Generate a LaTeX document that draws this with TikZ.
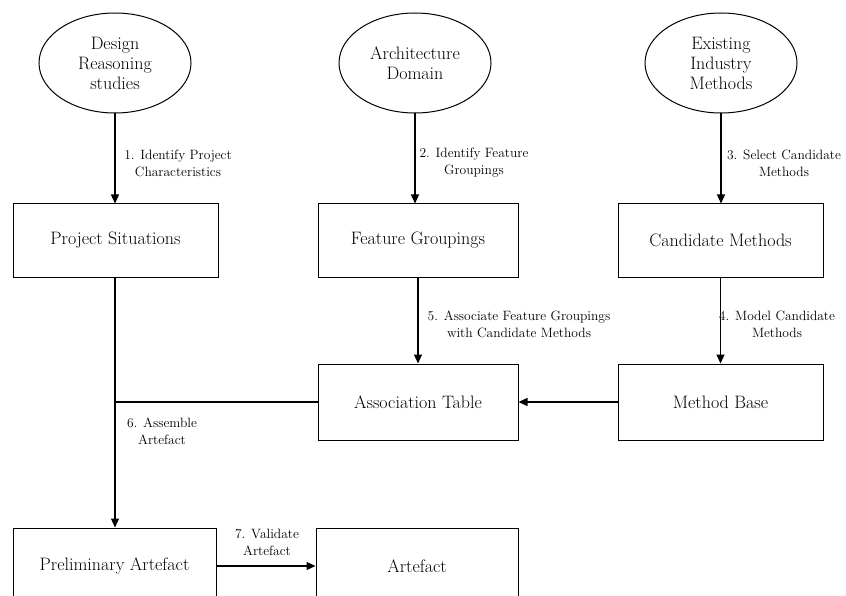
\documentclass[tikz,border=0pt]{standalone}
\usetikzlibrary{shapes.geometric,arrows.meta}
\begin{document}
\begin{tikzpicture}[x=1pt,y=-1pt,
  src/.style={draw, ellipse, line width=1pt, minimum width=152pt, minimum height=100pt, inner sep=0pt, align=center, font=\fontsize{18}{20}\selectfont},
  box/.style={draw, rectangle, line width=1pt, minimum width=205pt, minimum height=73pt, inner sep=0pt, font=\fontsize{18}{20}\selectfont},
  lbl/.style={font=\fontsize{13.5}{17}\selectfont, align=center, inner sep=0pt},
  arr/.style={-{Triangle[length=9pt,width=8pt]}, line width=1.1pt},
  ln/.style={line width=1.1pt}]
\useasboundingbox (0,0) rectangle (846,596);
% sources
\node[src] (e1) at (115,63) {Design\\Reasoning\\studies};
\node[src] (e2) at (415,63) {Architecture\\Domain};
\node[src] (e3) at (721,63) {Existing\\Industry\\Methods};
% boxes
\node[box] (ps) at (115.5,240.5) {Project Situations};
\node[box, minimum width=200pt] (fg) at (418,240.5) {Feature Groupings};
\node[box] (cm) at (720.5,240.5) {Candidate Methods};
\node[box, minimum width=200pt, minimum height=76pt] (at) at (418,402) {Association Table};
\node[box, minimum height=76pt] (mb) at (720.5,402) {Method Base};
\node[box, minimum width=203pt, minimum height=76pt] (pa) at (114.5,566) {Preliminary Artefact};
\node[box, minimum width=202pt, minimum height=76pt] (af) at (417,566) {Artefact};
% connectors
\draw[arr] (e1.south) -- (e1.south |- ps.north);
\draw[arr] (e2.south) -- (e2.south |- fg.north);
\draw[arr] (e3.south) -- (e3.south |- cm.north);
\draw[arr] (fg.south) -- (at.north);
\draw[arr] (cm.south) -- (mb.north);
\draw[arr] (mb.west) -- (at.east);
\coordinate (jn) at (at.west -| e1.south);
\draw[arr] (e1.south |- ps.south) -- (e1.south |- pa.north);
\draw[ln] (at.west) -- (jn);
\draw[arr] (pa.east) -- (af.west);
% labels
\node[lbl] (l1) at (178,163) {1. Identify Project\\Characteristics};
\node[lbl] (l2) at (474,163) {2. Identify Feature\\Groupings};
\node[lbl] (l3) at (784,163) {3. Select Candidate\\Methods};
\node[lbl] (l4) at (777,324) {4. Model Candidate\\Methods};
\node[lbl] (l5) at (519,324) {5. Associate Feature Groupings\\with Candidate Methods};
\node[lbl] (l6) at (162,431) {6. Assemble\\Artefact};
\node[lbl] (l7) at (267,542) {7. Validate\\Artefact};
\end{tikzpicture}
\end{document}
